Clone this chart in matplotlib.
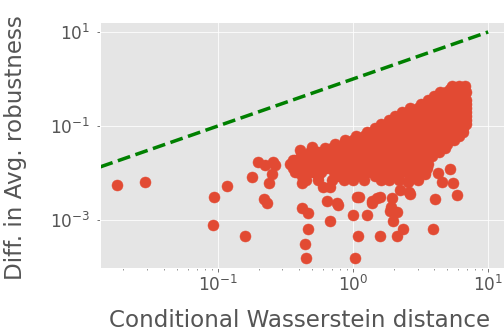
import numpy as np
import matplotlib
matplotlib.use("Agg")
import matplotlib.pyplot as plt
from matplotlib.ticker import FixedLocator, NullLocator

plt.style.use("ggplot")

# scattered points (outside the dense cloud)
sparse_x = [0.018, 0.029, 0.093, 0.116, 0.092, 0.158, 0.179,
            0.199, 0.223, 0.257, 0.264, 0.250, 0.240, 0.220, 0.230,
            0.361, 0.383, 0.417, 0.405, 0.494,
            0.417, 0.464, 0.462, 0.443, 0.449,
            0.676, 1.03, 1.005, 0.638, 0.757, 0.774, 0.600, 0.676,
            4.05, 5.92, 5.53, 5.23, 4.54, 4.28,
            3.89, 2.36, 2.11, 1.585, 1.095,
            1.99, 1.88, 2.11, 1.276,
            1.066, 1.376, 1.498, 1.935, 2.23, 2.64, 2.57, 3.41,
            1.10, 1.38, 1.59, 2.59, 1.92]
sparse_y = [0.0056, 0.0063, 0.0031, 0.0052, 0.00078, 0.00046, 0.0081,
            0.0169, 0.0148, 0.0169, 0.0148, 0.0094, 0.0062, 0.0028, 0.0023,
            0.0189, 0.0107, 0.0060, 0.0308, 0.0363,
            0.00177, 0.00143, 0.00063, 0.00031, 0.000158,
            0.00095, 0.000155, 0.00126, 0.00254, 0.00226, 0.00208, 0.0051, 0.0051,
            0.0028, 0.00336, 0.0062, 0.0122, 0.0065, 0.0099,
            0.00063, 0.00063, 0.00046, 0.00046, 0.00046,
            0.00095, 0.00158, 0.0015, 0.00126,
            0.00313, 0.00226, 0.0029, 0.0029, 0.00435, 0.00357, 0.0065, 0.0094,
            0.0031, 0.00254, 0.0031, 0.004, 0.00192]

# dense cloud, read row by row (top to bottom)
cloud_y = [0.71, 0.62, 0.528, 0.435, 0.357, 0.293, 0.241, 0.198, 0.163,
           0.134, 0.110, 0.0906, 0.0745, 0.0613, 0.0504, 0.0414, 0.034,
           0.028, 0.023, 0.0189, 0.0155, 0.0127, 0.0105, 0.0086, 0.0071]
cloud_x = [
    [5.4, 6.1, 6.7],
    [5.2, 5.9, 6.6],
    [4.4, 4.9, 5.6, 6.4, 6.9],
    [4.0, 4.6, 5.2, 5.9, 6.6],
    [3.6, 4.0, 4.6, 5.2, 5.9, 6.6, 6.9],
    [3.2, 3.6, 4.2, 4.8, 5.5, 6.2, 6.9],
    [2.65, 3.0, 3.45, 3.9, 4.5, 5.1, 5.8, 6.5, 6.9],
    [2.3, 2.6, 3.0, 3.4, 3.9, 4.4, 5.0, 5.7, 6.4, 6.9],
    [2.05, 2.35, 2.7, 3.1, 3.55, 4.05, 4.6, 5.3, 6.0, 6.8],
    [1.85, 2.1, 2.4, 2.8, 3.2, 3.7, 4.2, 4.8, 5.5, 6.2, 6.9],
    [1.6, 1.85, 2.1, 2.45, 2.8, 3.2, 3.7, 4.2, 4.8, 5.5, 6.3, 6.9],
    [1.45, 1.65, 1.9, 2.2, 2.5, 2.9, 3.3, 3.8, 4.4, 5.0, 5.7, 6.5],
    [1.27, 1.45, 1.65, 1.9, 2.2, 2.5, 2.9, 3.3, 3.8, 4.4, 5.0, 5.7, 6.5],
    [1.05, 1.2, 1.4, 1.6, 1.85, 2.1, 2.4, 2.8, 3.2, 3.7, 4.2, 4.8, 5.5, 6.1],
    [0.87, 1.0, 1.15, 1.3, 1.5, 1.75, 2.0, 2.3, 2.6, 3.0, 3.4, 3.9, 4.5, 5.1, 5.6],
    [0.74, 0.85, 0.97, 1.1, 1.25, 1.45, 1.65, 1.9, 2.2, 2.5, 2.85, 3.3, 3.8, 4.4, 5.0],
    [0.62, 0.7, 0.8, 0.92, 1.05, 1.2, 1.4, 1.6, 1.85, 2.1, 2.4, 2.75, 3.15, 3.6, 4.1, 4.8],
    [0.48, 0.55, 0.62, 0.72, 0.82, 0.95, 1.1, 1.25, 1.45, 1.65, 1.9, 2.2, 2.5, 2.9, 3.3, 3.8, 4.3],
    [0.41, 0.47, 0.54, 0.62, 0.71, 0.81, 0.93, 1.07, 1.22, 1.4, 1.6, 1.85, 2.1, 2.4, 2.8, 3.2, 3.85],
    [0.37, 0.43, 0.5, 0.57, 0.65, 0.75, 0.86, 0.98, 1.12, 1.28, 1.48, 1.7, 1.95, 2.25, 2.55, 2.95, 3.4],
    [0.34, 0.39, 0.45, 0.52, 0.6, 0.68, 0.78, 0.9, 1.03, 1.18, 1.35, 1.55, 1.78, 2.05, 2.35, 2.7, 3.1, 3.6],
    [0.36, 0.42, 0.48, 0.55, 0.64, 0.74, 0.86, 0.98, 1.13, 1.3, 1.5, 1.72, 2.0, 2.3, 2.6, 3.0, 3.5],
    [0.37, 0.43, 0.5, 0.58, 0.72, 0.82, 0.95, 1.1, 1.3, 1.5, 1.72, 2.0, 2.3, 2.65, 3.05, 3.4],
    [0.42, 0.55, 0.78, 1.05, 1.45, 2.0, 2.8],
    [0.45, 0.55, 0.7, 0.85, 1.0, 1.2, 1.6, 1.85, 2.2, 2.6, 3.0],
]

ref_line = [0.01, 10]

xs = list(sparse_x)
ys = list(sparse_y)
for yv, row in zip(cloud_y, cloud_x):
    xs += row
    ys += [yv] * len(row)

fig = plt.figure(figsize=(7, 4.625), dpi=72)
ax = fig.add_axes([100 / 504, 65 / 333, 404 / 504, 246 / 333])

ax.plot(ref_line, ref_line, color="green", linestyle="--", linewidth=3.5)
ax.scatter(xs, ys, s=121, color="#E24A33", zorder=3)

ax.set_xscale("log")
ax.set_yscale("log")
ax.set_xlim(0.0134, 13.1)
ax.set_ylim(9.5e-5, 16.3)
ax.yaxis.set_major_locator(FixedLocator([1e1, 1e-1, 1e-3]))
ax.yaxis.set_minor_locator(NullLocator())
ax.tick_params(labelsize=17)
ax.tick_params(axis="y", pad=6)

ax.set_xlabel("Conditional Wasserstein distance", fontsize=23, va="baseline")
ax.set_ylabel("Diff. in Avg. robustness", fontsize=23, va="baseline")
ax.xaxis.set_label_coords(0.495, -0.240)
ax.yaxis.set_label_coords(-0.193, 0.488)

fig.savefig("out.png", dpi=72)
